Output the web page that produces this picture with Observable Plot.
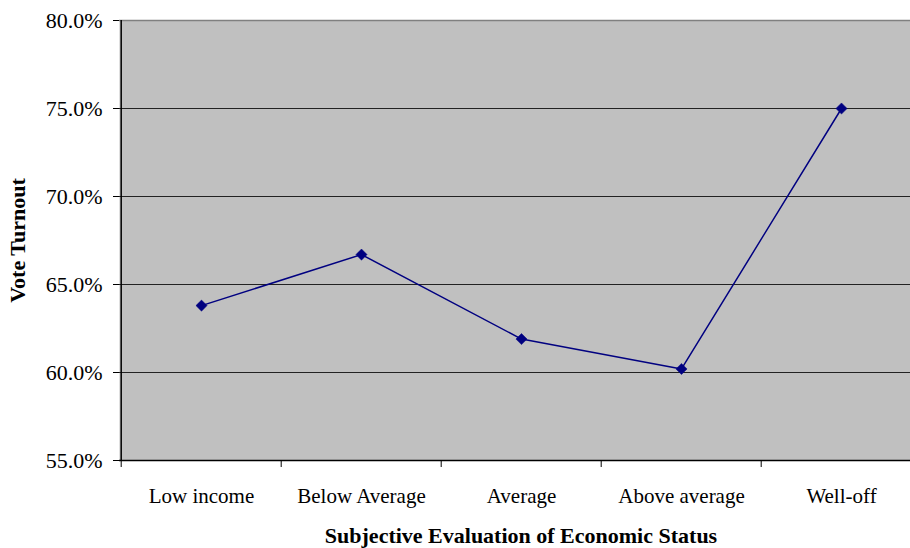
<!DOCTYPE html>
<html>
<head>
<meta charset="utf-8">
<script src="https://cdn.jsdelivr.net/npm/d3@7"></script>
<script src="https://cdn.jsdelivr.net/npm/@observablehq/plot@0.6"></script>
<style>
  html, body { margin: 0; padding: 0; background: #fff; }
  #chart svg { display: block; overflow: hidden; }
</style>
</head>
<body>
<div id="chart"></div>
<script>
const categories = ["Low income", "Below Average", "Average", "Above average", "Well-off"];
const turnout = [63.8, 66.7, 61.9, 60.2, 75.0];
const yTicks = [55, 60, 65, 70, 75, 80];
const xTitle = "Subjective Evaluation of Economic Status";
const yTitle = "Vote Turnout";

const data = categories.map((c, i) => ({category: c, value: turnout[i]}));

const W = 910, H = 548;
const left = 119, rightEdge = 922;
const half = (rightEdge - left) / categories.length / 2;

const chart = Plot.plot({
  width: W,
  height: H,
  marginLeft: left,
  marginRight: 0,
  marginTop: 20,
  marginBottom: 88,
  style: {fontFamily: "'Liberation Serif', 'Times New Roman', serif", fontSize: "21px", color: "#000", background: "#fff"},
  x: {type: "band", domain: categories, range: [left, rightEdge], padding: 0},
  y: {domain: [55, 80], range: [460, 20]},
  marks: [
    Plot.frame({fill: "#c0c0c0", stroke: null}),
    Plot.gridY(yTicks.filter(t => t > 55 && t < 80), {stroke: "#222", strokeOpacity: 1, strokeWidth: 1}),
    Plot.ruleY([80], {stroke: "#808080", strokeWidth: 1.5}),
    Plot.ruleY([55], {stroke: "#000", strokeWidth: 1.5}),
    Plot.ruleX([categories[0]], {dx: -half, stroke: "#000", strokeWidth: 1.5}),
    Plot.axisY({
      ticks: yTicks,
      tickFormat: d => d.toFixed(1) + "%",
      tickSize: 6,
      tickPadding: 11,
      fontSize: 22,
      label: null
    }),
    Plot.axisY({
      ticks: [],
      tickSize: 0,
      label: yTitle,
      labelAnchor: "center",
      labelArrow: "none",
      labelOffset: 110,
      fontSize: 22,
      fontWeight: "bold"
    }),
    Plot.axisX({
      tickSize: 7,
      text: null,
      label: null,
      dx: -half
    }),
    Plot.axisX({
      tickSize: 0,
      tickPadding: 28,
      label: null
    }),
    Plot.text([xTitle], {
      text: d => d,
      frameAnchor: "bottom",
      dx: 6,
      dy: 82,
      fontSize: 22,
      fontWeight: "bold",
      fill: "#000"
    }),
    Plot.line(data, {x: "category", y: "value", stroke: "#000080", strokeWidth: 1.5}),
    Plot.dot(data, {x: "category", y: "value", symbol: "diamond2", r: 5, fill: "#000080", stroke: "#000080", strokeWidth: 0.5})
  ]
});

document.getElementById("chart").appendChild(chart);
</script>
</body>
</html>
